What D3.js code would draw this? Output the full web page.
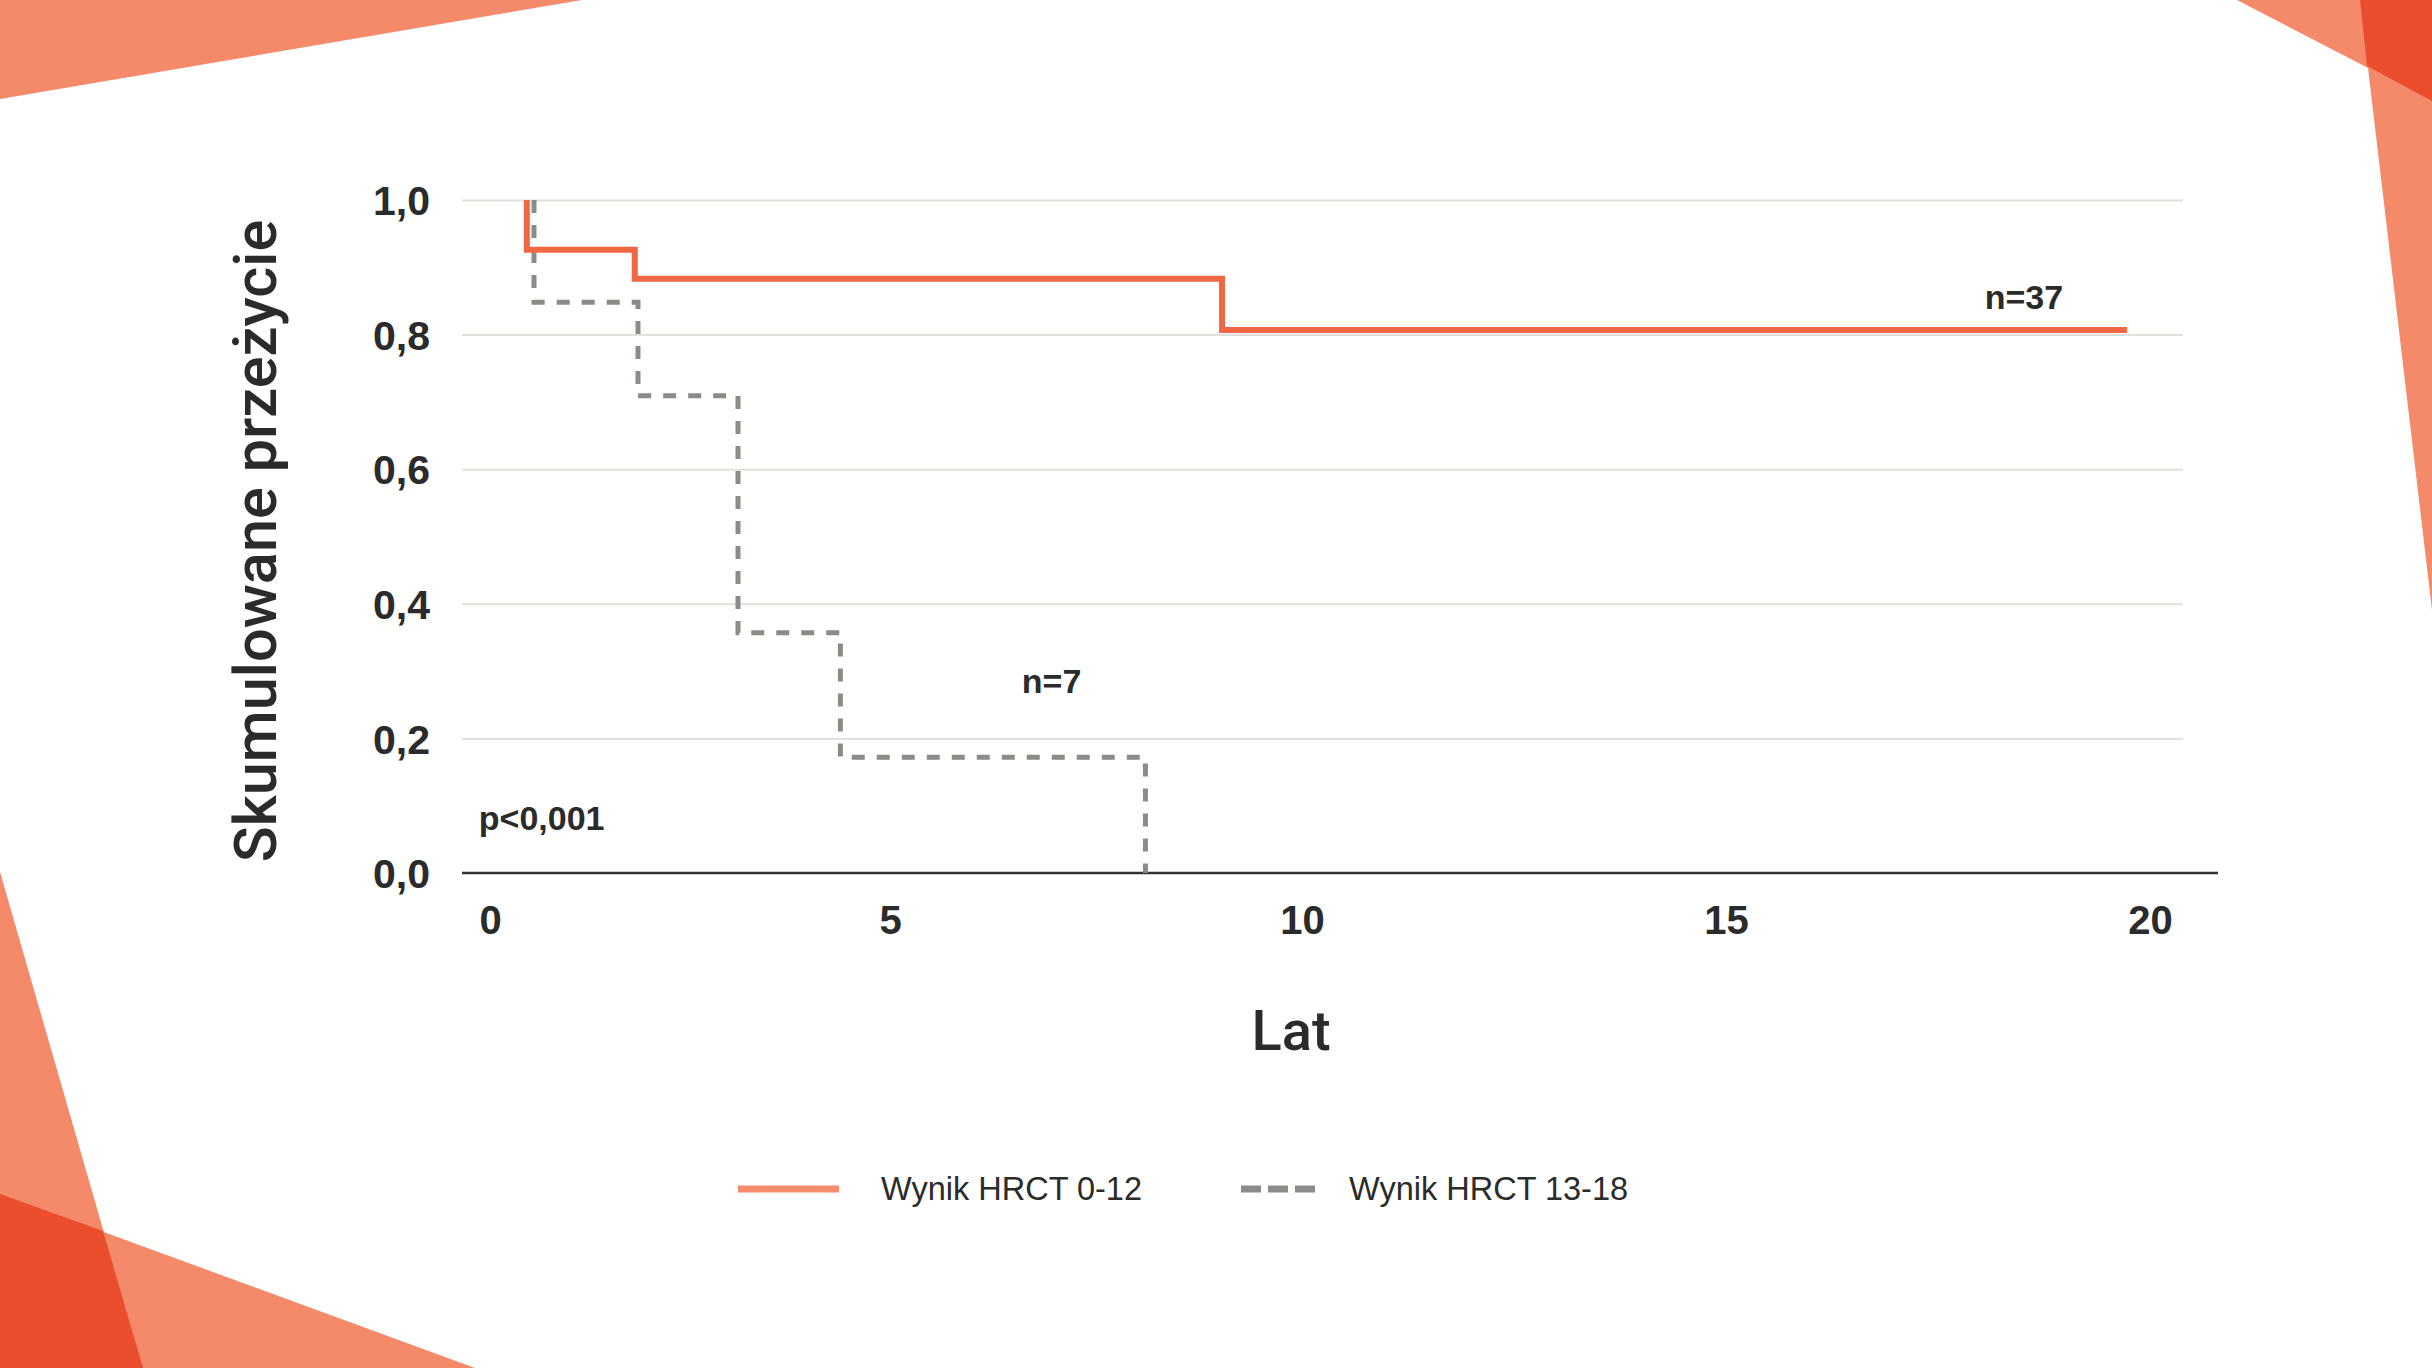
<!DOCTYPE html>
<html>
<head>
<meta charset="utf-8">
<script src="https://cdn.jsdelivr.net/npm/d3@7"></script>
<style>
  html, body { margin: 0; padding: 0; background: #ffffff; }
  svg { display: block; }
</style>
</head>
<body>
<svg id="chart" width="2432" height="1368"></svg>
<script>
// ---- data ----
const xTickValues = [0, 5, 10, 15, 20];
const yTickValues = [0, 0.2, 0.4, 0.6, 0.8, 1.0];

const seriesNames = ["Wynik HRCT 0-12", "Wynik HRCT 13-18"];

// Wynik HRCT 0-12 (n=37): Kaplan-Meier steps
const lowTimes = [0.46, 0.46, 1.81, 9.03, 19.73];
const lowSurv  = [1.0, 0.926, 0.883, 0.807, 0.807];

// Wynik HRCT 13-18 (n=7): Kaplan-Meier steps
const highTimes = [0.55, 0.55, 1.85, 3.10, 4.38, 8.10];
const highSurv  = [1.0, 0.848, 0.709, 0.357, 0.172, 0.0];

const annotations = [
  { text: "n=37", t: 18.05, s: 0.838 },
  { text: "n=7",  t: 6.6,   s: 0.267 },
  { text: "p<0,001", t: -0.14, s: 0.064 }
];

// ---- layout ----
const svg = d3.select("#chart");
const plotLeft = 462, plotRight = 2183, axisRight = 2218;
const yTop = 200, yBottom = 873;

// decorative corner shapes
const salmon = "#F48A69", red = "#EA4E2D";
const deco = svg.append("g");
const polys = [
  { c: salmon, p: [[0,0],[582,0],[0,99]] },
  { c: salmon, p: [[2237,0],[2432,0],[2432,101]] },
  { c: salmon, p: [[2360,0],[2432,0],[2432,610]] },
  { c: red,    p: [[2360,0],[2432,0],[2432,101],[2367,66]] },
  { c: salmon, p: [[0,872],[143,1368],[0,1368]] },
  { c: salmon, p: [[0,1194],[475,1368],[0,1368]] },
  { c: red,    p: [[0,1194],[103,1231],[143,1368],[0,1368]] }
];
deco.selectAll("polygon").data(polys).join("polygon")
  .attr("points", d => d.p.map(q => q.join(",")).join(" "))
  .attr("fill", d => d.c);

// scales
const x = d3.scaleLinear().domain(xTickValues).range([490, 890, 1302, 1726, 2150]);
const y = d3.scaleLinear().domain([0, 1]).range([yBottom, yTop]);

const fmt = v => d3.format(".1f")(v).replace(".", ",");

// gridlines
const grid = svg.append("g")
  .attr("transform", `translate(${plotLeft},0)`)
  .call(d3.axisRight(y).tickValues(yTickValues.filter(v => v > 0)).tickSize(plotRight - plotLeft).tickFormat(""));
grid.select(".domain").remove();
grid.selectAll("line").attr("stroke", "#e2e0da").attr("stroke-width", 2);

// x axis line
svg.append("line")
  .attr("x1", plotLeft).attr("x2", axisRight)
  .attr("y1", y(0)).attr("y2", y(0))
  .attr("stroke", "#333333").attr("stroke-width", 2.5);

// y axis labels
const yAxis = svg.append("g")
  .attr("transform", `translate(430,0)`)
  .call(d3.axisLeft(y).tickValues(yTickValues).tickSize(0).tickPadding(0).tickFormat(fmt));
yAxis.select(".domain").remove();
yAxis.selectAll("text")
  .attr("font-family", "'Liberation Sans', Arial, sans-serif")
  .attr("font-weight", "bold").attr("font-size", 41).attr("fill", "#2b2b2b")
  .attr("dy", "0.36em");

// x axis labels
const xAxis = svg.append("g")
  .attr("transform", `translate(0,${yBottom})`)
  .call(d3.axisBottom(x).tickValues(xTickValues).tickSize(0).tickPadding(33).tickFormat(d3.format("d")));
xAxis.select(".domain").remove();
xAxis.selectAll("text")
  .attr("font-family", "'Liberation Sans', Arial, sans-serif")
  .attr("font-weight", "bold").attr("font-size", 40).attr("fill", "#2b2b2b");

// series lines
const line = d3.line().x(d => x(d[0])).y(d => y(d[1])).curve(d3.curveStepAfter);
const lowPts = lowTimes.map((t, i) => [t, lowSurv[i]]);
const highPts = highTimes.map((t, i) => [t, highSurv[i]]);

svg.append("path").datum(highPts)
  .attr("d", line).attr("fill", "none")
  .attr("stroke", "#8c8b87").attr("stroke-width", 5)
  .attr("stroke-dasharray", "13,12");

svg.append("path").datum(lowPts)
  .attr("d", line).attr("fill", "none")
  .attr("stroke", "#F06843").attr("stroke-width", 6)
  .attr("stroke-linejoin", "miter");

// annotations
svg.append("g").selectAll("text").data(annotations).join("text")
  .attr("x", d => x(d.t)).attr("y", d => y(d.s))
  .attr("font-family", "'Liberation Sans', Arial, sans-serif")
  .attr("font-weight", "bold").attr("font-size", 34).attr("fill", "#2b2b2b")
  .text(d => d.text);

// axis titles
svg.append("text")
  .attr("transform", `translate(276,541) rotate(-90)`)
  .attr("text-anchor", "middle")
  .attr("font-family", "Roboto, 'Liberation Sans', sans-serif")
  .attr("font-weight", 500).attr("font-size", 59.5).attr("fill", "#2b2b2b")
  .text("Skumulowane przeżycie");

svg.append("text")
  .attr("x", 1291).attr("y", 1050)
  .attr("text-anchor", "middle")
  .attr("font-family", "Roboto, 'Liberation Sans', sans-serif")
  .attr("font-weight", 500).attr("font-size", 56).attr("fill", "#2b2b2b")
  .text("Lat");

// legend
const legend = svg.append("g");
const legendItems = [
  { name: seriesNames[0], x0: 738, x1: 839, tx: 881, color: "#F58C6B", dash: null },
  { name: seriesNames[1], x0: 1241, x1: 1315, tx: 1349, color: "#8c8b87", dash: "20,7" }
];
legendItems.forEach(d => {
  legend.append("line")
    .attr("x1", d.x0).attr("x2", d.x1).attr("y1", 1189).attr("y2", 1189)
    .attr("stroke", d.color).attr("stroke-width", 7)
    .attr("stroke-dasharray", d.dash);
  legend.append("text")
    .attr("x", d.tx).attr("y", 1200)
    .attr("font-family", "'Liberation Sans', Arial, sans-serif")
    .attr("font-size", 32.5).attr("fill", "#2b2b2b")
    .text(d.name);
});
</script>
</body>
</html>
